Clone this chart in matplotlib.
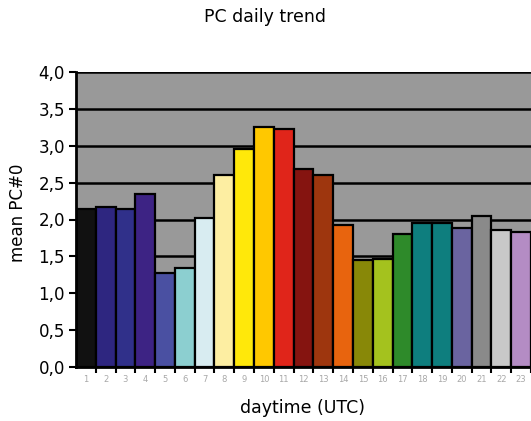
import matplotlib
matplotlib.use("Agg")
import matplotlib.pyplot as plt
from matplotlib.ticker import FixedLocator, FuncFormatter

hours = list(range(1, 24))
mean_pc = [2.14, 2.17, 2.14, 2.34, 1.28, 1.34, 2.02, 2.60, 2.96, 3.25, 3.23,
           2.69, 2.60, 1.92, 1.45, 1.46, 1.81, 1.95, 1.95, 1.89, 2.05, 1.86, 1.83]
bar_colors = ["#111111", "#2e2680", "#30308a", "#3d2384", "#4a50a2", "#8ccfd0",
              "#d8ecf1", "#fdeea2", "#ffe80a", "#ffc800", "#e0251a", "#851410",
              "#9e360e", "#e8640e", "#888808", "#a4c21e", "#2e8a2a", "#0e7e7e",
              "#0e7e7e", "#6a64a0", "#8a8a8a", "#c8c8c8", "#b48cc4"]
y_ticks = [0.0, 0.5, 1.0, 1.5, 2.0, 2.5, 3.0, 3.5, 4.0]

fig = plt.figure(figsize=(5.31, 4.21), dpi=100)
ax = fig.add_axes([76 / 531, 1 - 367 / 421, 1 - 76 / 531, (367 - 72) / 421])
ax.set_facecolor("#999999")

ax.bar(hours, mean_pc, width=1.0, color=bar_colors, edgecolor="black",
       linewidth=1.6, zorder=3)

ax.set_xlim(0.5, 23.41)
ax.set_ylim(0, 4.0)
ax.yaxis.set_major_locator(FixedLocator(y_ticks))
ax.yaxis.set_major_formatter(FuncFormatter(lambda v, p: f"{v:.1f}".replace(".", ",")))
ax.grid(axis="y", color="black", linewidth=1.8, zorder=1)
ax.set_axisbelow(True)

ax.set_xticks(hours)
ax.set_xticklabels([str(h) for h in hours], fontsize=6, color="#a8a8a8")
ax.set_xticks([h + 0.5 for h in hours], minor=True)
ax.tick_params(axis="x", which="major", length=0, pad=6)
ax.tick_params(axis="x", which="minor", length=4, width=1.5, color="black")
ax.tick_params(axis="y", length=5, width=1.5, color="black", labelsize=12, pad=3)

for side in ("top", "right"):
    ax.spines[side].set_visible(False)
ax.spines["left"].set_linewidth(2)
ax.spines["bottom"].set_linewidth(2)
ax.spines["left"].set_zorder(4)
ax.spines["bottom"].set_zorder(4)

fig.text(0.5, 1 - 17 / 421, "PC daily trend", ha="center", va="center", fontsize=12.5)
fig.text(18 / 531, 1 - 213 / 421, "mean PC#0", rotation=90, ha="center",
         va="center", fontsize=12)
fig.text(303 / 531, 1 - 408 / 421, "daytime (UTC)", ha="center", va="center",
         fontsize=12.5)

fig.savefig("out.png", dpi=100)
